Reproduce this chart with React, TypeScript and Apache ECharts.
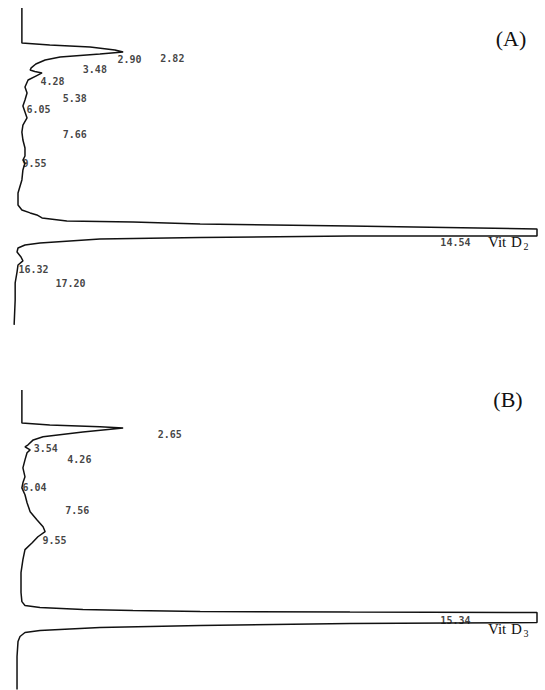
import React, { useEffect, useRef } from "react";
import * as echarts from "echarts";

// Panel A trace: signal (arbitrary units, 0 = baseline) vs retention time (min)
const traceASignal = [
  0.3, 0.3, 5.7, 13.5, 18.3, 19.9, 15.4, 7.7, 4.8, 3.0, 2.1, 1.9, 2.8, 4.2, 3.0, 1.5,
  0.9, 1.3, 0.9, 0.5, 0.9, 1.3, 0.5, 0.3, 0.5, 0.9, 0.9, 0.5, 0.9, 0.5, 0.3, -0.45,
  -0.45, 0.3, 1.9, 3.2, 4.2, 9.0, 21.8, 34.8, 63.8, 100, 100, 63.8, 34.8, 15.4, 3.8,
  0.9, -0.45, -0.64, 0.13, 0.5, -0.45, -0.64, -1.0, -1.0, -1.2,
];
const traceATime = [
  0.09, 2.32, 2.45, 2.58, 2.77, 2.9, 3.03, 3.22, 3.41, 3.67, 3.92, 4.05, 4.15, 4.24, 4.44, 4.69,
  5.14, 5.52, 5.97, 6.35, 6.74, 7.12, 7.57, 8.02, 8.53, 9.04, 9.55, 9.81, 10.0, 10.44, 11.08, 11.92,
  12.68, 13.0, 13.19, 13.32, 13.51, 13.71, 13.77, 13.9, 14.02, 14.22, 14.66, 14.66, 14.76, 14.86, 15.11,
  15.24, 15.43, 15.69, 16.01, 16.26, 16.52, 16.97, 17.67, 18.76, 20.35,
];

// Panel B trace
const traceBSignal = [
  0.3, 0.3, 5.7, 15.4, 19.9, 12.1, 4.4, 2.5, 1.5, 0.9, 1.9, 1.3, 0.9, 0.5, 0.9, 0.5,
  0.3, 0.9, 1.3, 1.9, 3.2, 4.4, 4.8, 3.4, 2.3, 0.9, 0.5, 0.13, 0.13, 0.3, 0.9, 3.8,
  12.1, 21.8, 34.8, 63.8, 100, 100, 83.2, 63.8, 34.8, 15.4, 3.8, 0.9, -0.06, -0.45, -0.64, -0.64,
];
const traceBTime = [
  0.18, 2.33, 2.46, 2.58, 2.65, 2.91, 3.23, 3.43, 3.75, 3.88, 4.08, 4.27, 4.73, 5.25, 5.83, 6.22,
  6.55, 7.0, 7.52, 8.1, 8.62, 9.08, 9.4, 9.73, 10.12, 10.57, 11.22, 12.07, 13.36, 13.95, 14.2, 14.34,
  14.47, 14.53, 14.6, 14.63, 14.66, 15.31, 15.34, 15.38, 15.5, 15.64, 15.83, 15.96, 16.22, 16.55, 17.52, 19.66,
];

// Integrator retention-time printouts
const peakLabelsA = ["2.90", "2.82", "3.48", "4.28", "5.38", "6.05", "7.66", "9.55", "14.54", "16.32", "17.20"];
const peakLabelColumnA = [18.7, 27.0, 12.0, 3.8, 8.1, 1.1, 8.1, 0.3, 81.2, -0.45, 6.7];
const peakLabelsB = ["2.65", "3.54", "4.26", "6.04", "7.56", "9.55", "15.34"];
const peakLabelColumnB = [26.5, 2.5, 9.0, 0.3, 8.6, 4.2, 81.2];

const zip = (s: number[], t: number[]) => s.map((v, i) => [v, t[i]]);

const serif = "Liberation Serif";

export default function App() {
  const ref = useRef<HTMLDivElement>(null);
  useEffect(() => {
    const chart = echarts.init(ref.current!, null, { renderer: "svg" });
    const lineStyle = { color: "#111", width: 1.5 };
    const labelStyle = {
      show: true,
      position: "right",
      distance: 0,
      formatter: "{b}",
      color: "#111",
      fontFamily: "DejaVu Sans Mono",
      fontWeight: "bold",
      fontSize: 10,
    };
    const txt = (text: string, x: number, y: number, size: number, align = "left") => ({
      type: "text",
      x,
      y,
      silent: true,
      style: { text, fontSize: size, fontFamily: serif, fill: "#111", align, verticalAlign: "middle" },
    });
    const option = {
      animation: false,
      grid: [
        { left: 10, right: 8, top: 6.64, height: 320.6 },
        { left: 10, right: 8, top: 387.19, height: 303.4 },
      ],
      xAxis: [
        { gridIndex: 0, type: "value", min: -2, max: 100, show: false },
        { gridIndex: 1, type: "value", min: -2, max: 100, show: false },
      ],
      yAxis: [
        { gridIndex: 0, type: "value", min: 0, max: 20.5, inverse: true, show: false },
        { gridIndex: 1, type: "value", min: 0, max: 19.7, inverse: true, show: false },
      ],
      series: [
        {
          type: "line", xAxisIndex: 0, yAxisIndex: 0, data: zip(traceASignal, traceATime),
          symbol: "none", lineStyle, clip: false, silent: true,
        },
        {
          type: "line", xAxisIndex: 1, yAxisIndex: 1, data: zip(traceBSignal, traceBTime),
          symbol: "none", lineStyle, clip: false, silent: true,
        },
        {
          type: "scatter", xAxisIndex: 0, yAxisIndex: 0, symbolSize: 1, silent: true,
          itemStyle: { color: "transparent" },
          data: peakLabelsA.map((n, i) => ({ name: n, value: [peakLabelColumnA[i], parseFloat(n)] })),
          label: { ...labelStyle, offset: [0, 8] },
        },
        {
          type: "scatter", xAxisIndex: 1, yAxisIndex: 1, symbolSize: 1, silent: true,
          itemStyle: { color: "transparent" },
          data: peakLabelsB.map((n, i) => ({
            name: n,
            value: [peakLabelColumnB[i], parseFloat(n)],
            ...(n === "15.34" ? { label: { offset: [0, -2] } } : {}),
          })),
          label: { ...labelStyle, offset: [0, 7] },
        },
      ],
      graphic: [
        txt("(A)", 511, 38, 22, "center"),
        txt("(B)", 508, 399, 22, "center"),
        txt("Vit", 488, 242, 15),
        txt("D", 511, 242, 15),
        txt("2", 523.5, 246, 10),
        txt("Vit", 488, 629, 15),
        txt("D", 511, 629, 15),
        txt("3", 523.5, 633, 10),
      ],
    };
    chart.setOption(option as any);
    return () => chart.dispose();
  }, []);
  return (
    <div
      ref={ref}
      style={{ position: "absolute", left: 0, top: 0, width: 545, height: 690 }}
    />
  );
}
